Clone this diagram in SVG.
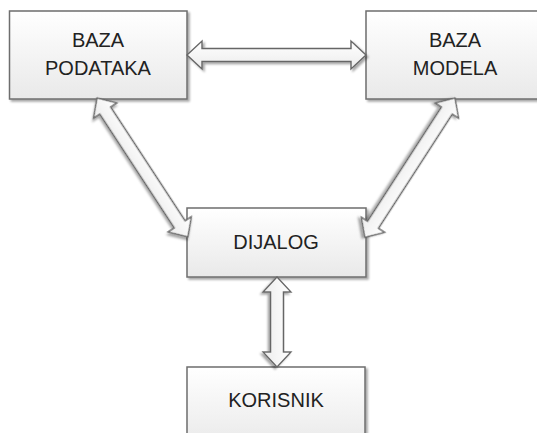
<svg xmlns="http://www.w3.org/2000/svg" width="537" height="433" viewBox="0 0 537 433">
  <defs>
    <linearGradient id="boxFill" x1="0" y1="0" x2="0" y2="1">
      <stop offset="0" stop-color="#ffffff"/>
      <stop offset="1" stop-color="#e9e9e9"/>
    </linearGradient>
    <linearGradient id="arrFill" x1="0" y1="0" x2="0" y2="1">
      <stop offset="0" stop-color="#ffffff"/>
      <stop offset="1" stop-color="#ececec"/>
    </linearGradient>
    <filter id="shadow" x="-10%" y="-10%" width="130%" height="130%">
      <feDropShadow dx="2" dy="2" stdDeviation="1.2" flood-color="#000" flood-opacity="0.35"/>
    </filter>
    <style>
      .box { fill: url(#boxFill); stroke: #6e6e6e; stroke-width: 1.5; filter: url(#shadow); }
      .arrow { fill: url(#arrFill); stroke: #666666; stroke-width: 1.4; stroke-linejoin: miter; filter: url(#shadow); }
      .label { font-family: "Liberation Sans", Arial, sans-serif; font-size: 20px; fill: #222222; text-anchor: middle; }
    </style>
  </defs>

  <g id="baza-podataka">
    <rect class="box" x="9.5" y="11" width="177.5" height="88"/>
    <text class="label" x="98" y="47">BAZA</text>
    <text class="label" x="98" y="75">PODATAKA</text>
  </g>

  <g id="baza-modela">
    <rect class="box" x="366" y="11" width="180" height="88"/>
    <text class="label" x="455" y="47">BAZA</text>
    <text class="label" x="455" y="75">MODELA</text>
  </g>

  <g id="dijalog">
    <rect class="box" x="187" y="208" width="179" height="69"/>
    <text class="label" x="276" y="249">DIJALOG</text>
  </g>

  <g id="korisnik">
    <rect class="box" x="187" y="367" width="178" height="80"/>
    <text class="label" x="276" y="407">KORISNIK</text>
  </g>

  <g id="connectors">
    <path class="arrow" transform="translate(187,55)" d="M0,0 L15,-14 L15,-6.5 L164,-6.5 L164,-14 L179,0 L164,14 L164,6.5 L15,6.5 L15,14 Z"/>
    <path class="arrow" transform="translate(97,98) rotate(56.8)" d="M0,0 L15,-14 L15,-6.5 L151,-6.5 L151,-14 L166,0 L151,14 L151,6.5 L15,6.5 L15,14 Z"/>
    <path class="arrow" transform="translate(455,98) rotate(122.9)" d="M0,0 L15,-14 L15,-6.5 L151,-6.5 L151,-14 L166,0 L151,14 L151,6.5 L15,6.5 L15,14 Z"/>
    <path class="arrow" transform="translate(277,277) rotate(90)" d="M0,0 L15,-14 L15,-6.5 L75,-6.5 L75,-14 L90,0 L75,14 L75,6.5 L15,6.5 L15,14 Z"/>
  </g>
</svg>
